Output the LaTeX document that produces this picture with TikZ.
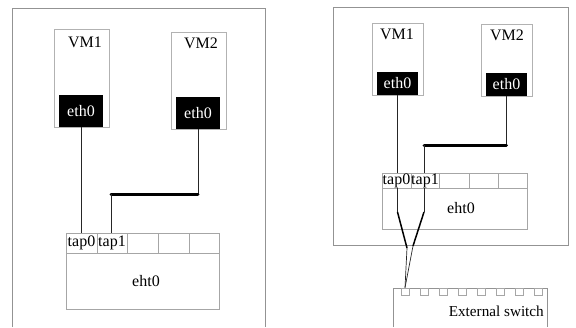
\documentclass[tikz,border=0pt]{standalone}
\usepackage{fontspec}
\setmainfont{Liberation Serif}
\begin{document}
\begin{tikzpicture}[x=1pt,y=-1pt,
  frame/.style={draw=gray!85, line width=0.8pt},
  vmbox/.style={draw=gray!60, line width=0.8pt, inner sep=0pt},
  ethbox/.style={fill=black, text=white, inner sep=0pt, font=\fontsize{16}{19}\selectfont},
  lbl/.style={inner sep=0pt, font=\fontsize{16}{19}\selectfont},
  cell/.style={draw=gray!70, line width=0.6pt, inner sep=0pt, font=\fontsize{16}{19}\selectfont},
  swbox/.style={draw=gray!70, line width=0.6pt, inner sep=0pt},
  conn/.style={draw=gray!30!black, line width=0.7pt},
  bus/.style={line width=3pt, line cap=round},
  cross/.style={line width=1.5pt},
  port/.style={draw=gray!70, line width=0.6pt, inner sep=0pt, minimum width=8pt, minimum height=7pt}
]
\useasboundingbox (0,0) rectangle (576,327);

% ---------- left panel ----------
\draw[frame] (12,327) -- (12,8) -- (265,8) -- (265,327);
\node[vmbox, minimum width=55pt, minimum height=98pt] (vm1L) at (81.5,78) {};
\node[lbl] (vm1Lt) at (85,42) {VM1};
\node[ethbox, minimum width=44pt, minimum height=32pt] (eth1L) at (81,111) {eth0};
\node[vmbox, minimum width=55pt, minimum height=97pt] (vm2L) at (198.5,80.5) {};
\node[lbl] (vm2Lt) at (201,43) {VM2};
\node[ethbox, minimum width=44pt, minimum height=32pt] (eth2L) at (198,113) {eth0};

\node[swbox, minimum width=153pt, minimum height=76pt] (brL) at (142.5,271) {};
\node[cell, minimum width=31pt, minimum height=20pt] (tap0L) at (81.5,243) {tap0};
\node[cell, minimum width=30pt, minimum height=20pt] (tap1L) at (112,243) {tap1};
\node[cell, minimum width=31pt, minimum height=20pt] (c3L) at (142.5,243) {};
\node[cell, minimum width=31pt, minimum height=20pt] (c4L) at (173.5,243) {};
\node[cell, minimum width=30pt, minimum height=20pt] (c5L) at (204,243) {};
\node[lbl] (ehtL) at (146,281) {eht0};

\coordinate (busLr) at (198,194);
\coordinate (busLl) at (111,194);
\draw[conn] (eth1L.south) -- (eth1L.south |- tap0L.north);
\draw[conn] (eth2L.south) -- (busLr);
\draw[bus] (busLl) -- (busLr);
\draw[conn] (busLl) -- (busLl |- tap1L.north);

% ---------- right panel ----------
\draw[frame] (333,7) rectangle (568,245);
\node[vmbox, minimum width=51pt, minimum height=72pt] (vm1R) at (397.5,59) {};
\node[lbl] (vm1Rt) at (397,34) {VM1};
\node[ethbox, minimum width=41pt, minimum height=23pt] (eth1R) at (397.5,83.5) {eth0};
\node[vmbox, minimum width=51pt, minimum height=72pt] (vm2R) at (506.5,60) {};
\node[lbl] (vm2Rt) at (507,35) {VM2};
\node[ethbox, minimum width=41pt, minimum height=23pt] (eth2R) at (506.5,84.5) {eth0};

\node[swbox, minimum width=145pt, minimum height=56pt] (brR) at (454.5,201) {};
\node[cell, minimum width=29pt, minimum height=15pt] (tap0R) at (396.5,180.5) {tap0};
\node[cell, minimum width=28pt, minimum height=15pt] (tap1R) at (425,180.5) {tap1};
\node[cell, minimum width=30pt, minimum height=15pt] (c3R) at (454,180.5) {};
\node[cell, minimum width=29pt, minimum height=15pt] (c4R) at (483.5,180.5) {};
\node[cell, minimum width=29pt, minimum height=15pt] (c5R) at (512.5,180.5) {};
\node[lbl] (ehtR) at (461,208) {eht0};

% external switch
\draw[frame] (393,327) -- (393,288) -- (547,288) -- (547,327);
\foreach \i in {0,...,7} {
  \node[port] (p\i) at ({405+\i*19},291.5) {};
}
\node[lbl, anchor=east, font=\fontsize{15.2}{18}\selectfont] (swt) at (544,311) {External switch};

\coordinate (busRr) at (506.5,145);
\coordinate (busRl) at (424,145);
\coordinate (x0top) at (397.5,212);
\coordinate (x1top) at (424,212);
\coordinate (x0bot) at (407,248);
\coordinate (x1bot) at (413,246);
\draw[conn] (eth1R.south) -- (eth1R.south |- tap0R.north);
\draw[conn] (eth1R.south |- tap0R.south) -- (x0top);
\draw[conn] (eth2R.south) -- (busRr);
\draw[bus] (busRl) -- (busRr);
\draw[conn] (busRl) -- (busRl |- tap1R.north);
\draw[conn] (busRl |- tap1R.south) -- (x1top);
\draw[cross] (x0top) -- (x0bot);
\draw[cross] (x1top) -- (x1bot);
\draw[conn] (x0bot) -- (p0.north);
\draw[conn] (x1bot) -- (p0.north);
\end{tikzpicture}
\end{document}
